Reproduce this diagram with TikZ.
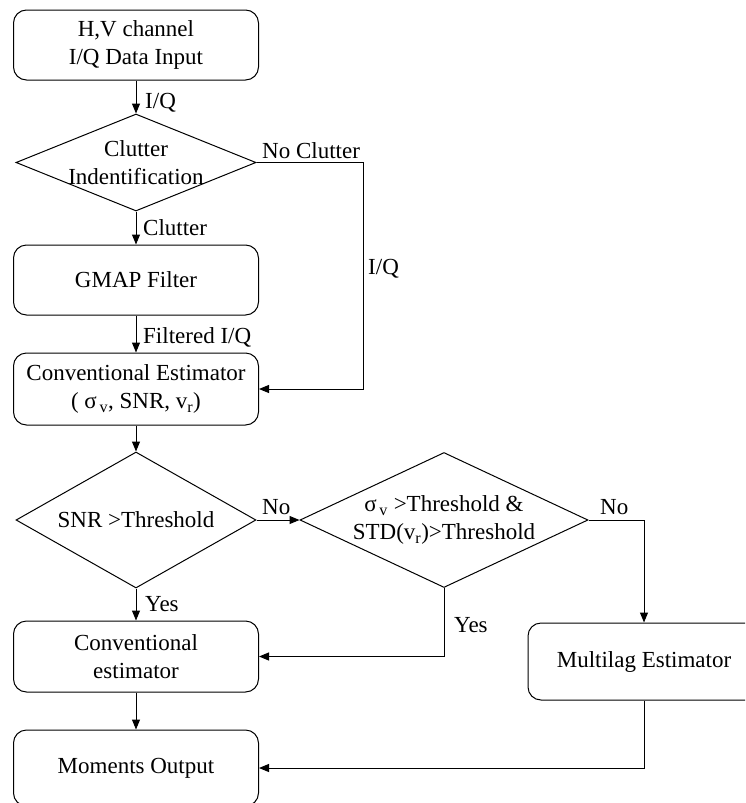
\documentclass[tikz,border=0pt]{standalone}
\usepackage{fontspec}
\setmainfont{Liberation Serif}
\usetikzlibrary{arrows.meta,shapes.geometric}
\begin{document}
\begin{tikzpicture}[x=1pt,y=-1pt,
  every node/.style={font=\fontsize{23}{28}\selectfont},
  box/.style={draw, line width=1pt, rounded corners=13pt, minimum width=245pt, inner sep=0pt, align=center},
  dia/.style={draw, line width=1pt, diamond, inner sep=0pt},
  txt/.style={align=center, inner sep=0pt},
  lbl/.style={inner sep=0pt, anchor=base west},
  arr/.style={line width=1pt, -{Triangle[length=10pt,width=8pt]}}]
\useasboundingbox[fill=white] (0,0) rectangle (745,803);
\clip (0,0) rectangle (745,803);

% nodes
\node[box, minimum height=70pt] (inp) at (136,45) {H,V channel\\I/Q Data Input};
\node[dia, minimum width=240pt, minimum height=97pt] (clut) at (136,162.5) {};
\node[txt] (clutT) at (136,163) {Clutter\\Indentification};
\node[box, minimum height=70pt] (gmap) at (136,280) {GMAP Filter};
\node[box, minimum height=72pt] (conv) at (136,389) {Conventional Estimator\\( σ\textsubscript{\,v}, SNR, v\textsubscript{r})};
\node[dia, minimum width=240pt, minimum height=136pt] (snr) at (136,520) {};
\node[txt] (snrT) at (136,520) {SNR >Threshold};
\node[dia, minimum width=288pt, minimum height=135pt] (crit) at (444,520) {};
\node[txt] (critT) at (444,520) {σ\textsubscript{\,v} >Threshold \&\\STD(v\textsubscript{r})>Threshold};
\node[box, minimum height=71pt] (conv2) at (136,656.5) {Conventional\\estimator};
\node[box, minimum height=76pt] (mom) at (136,768) {Moments Output};
\node[box, minimum width=232pt, minimum height=77pt] (multi) at (644,661.5) {Multilag Estimator};

% labels
\node[lbl] (l1) at (145,108) {I/Q};
\node[lbl] (l2) at (262,158) {No Clutter};
\node[lbl] (l3) at (368,274) {I/Q};
\node[lbl] (l4) at (143,235) {Clutter};
\node[lbl] (l5) at (143,343) {Filtered I/Q};
\node[lbl] (l6) at (262,514) {No};
\node[lbl] (l7) at (600,514) {No};
\node[lbl] (l8) at (145,611) {Yes};
\node[lbl] (l9) at (454,632) {Yes};

% connectors
\coordinate (nc) at (363,389);
\draw[arr] (inp) -- (clut);
\draw[arr] (clut.east) -| (nc) -- (conv.east);
\draw[arr] (clut) -- (gmap);
\draw[arr] (gmap) -- (conv);
\draw[arr] (conv) -- (snr);
\draw[arr] (snr.east) -- (crit.west);
\draw[arr] (crit.east) -| (multi.north);
\draw[arr] (crit.south) |- (conv2.east);
\draw[arr] (snr) -- (conv2);
\draw[arr] (conv2) -- (mom);
\draw[arr] (multi.south) |- (mom.east);
\end{tikzpicture}
\end{document}
